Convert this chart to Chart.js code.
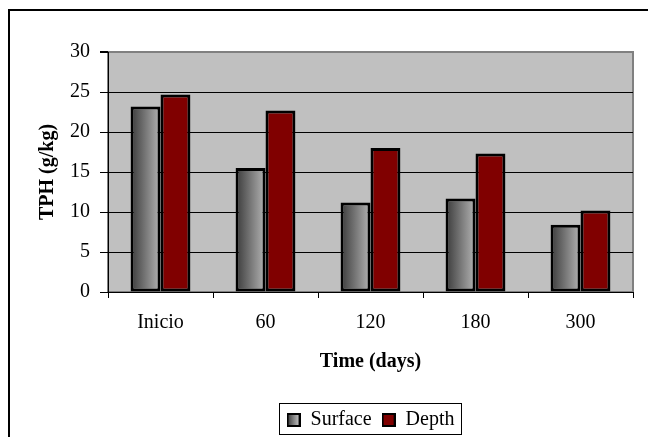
<!DOCTYPE html>
<html>
<head>
<meta charset="utf-8">
<script src="https://cdn.jsdelivr.net/npm/chart.js@4"></script>
<style>
  html, body { margin: 0; padding: 0; background: #fff; overflow: hidden; }
  #wrap { position: relative; width: 648px; height: 437px; }
  #frame {
    position: absolute; left: 8px; top: 9px; width: 700px; height: 500px;
    border-left: 2px solid #000; border-top: 2px solid #000; pointer-events: none;
  }
  canvas { position: absolute; left: 0; top: 0; }
</style>
</head>
<body>
<div id="wrap">
  <canvas id="chart" width="648" height="437"></canvas>
  <div id="frame"></div>
</div>
<script>
// data
const timeLabels = ['Inicio', '60', '120', '180', '300'];
const surfaceValues = [23.2, 15.5, 11.2, 11.7, 8.4];
const depthValues = [24.7, 22.7, 18.0, 17.3, 10.2];
const yTicks = [0, 5, 10, 15, 20, 25, 30];

const SERIF = '"Liberation Serif", "Times New Roman", serif';
const FONT_SIZE = 20;
const CAT_PCT = 0.57;

// grey bars get a left-to-right gradient like the Excel original
function surfaceFill(ctx) {
  const chart = ctx.chart;
  const x = chart.scales.x;
  if (!chart.chartArea || !x || ctx.type !== 'data') return '#8c8c8c';
  const c = x.getPixelForValue(ctx.dataIndex);
  const cat = x.getPixelForValue(1) - x.getPixelForValue(0);
  const bw = cat * CAT_PCT / 2;
  const g = chart.ctx.createLinearGradient(c - bw, 0, c, 0);
  g.addColorStop(0, '#3a3a3a');
  g.addColorStop(1, '#b4b4b4');
  return g;
}

// small swatch images for the legend
function makeSwatch(fill) {
  const cv = document.createElement('canvas');
  cv.width = 14; cv.height = 14;
  const c = cv.getContext('2d');
  if (fill === 'gradient') {
    const g = c.createLinearGradient(1, 0, 13, 0);
    g.addColorStop(0, '#3a3a3a');
    g.addColorStop(1, '#c8c8c8');
    c.fillStyle = g;
  } else {
    c.fillStyle = fill;
  }
  c.fillRect(0, 0, 14, 14);
  c.strokeStyle = '#000';
  c.lineWidth = 2;
  c.strokeRect(1, 1, 12, 12);
  return cv;
}
const swatches = [makeSwatch('gradient'), makeSwatch('#800000')];

const plotBackground = {
  id: 'plotBackground',
  beforeDraw(chart) {
    const { ctx, chartArea: a } = chart;
    ctx.save();
    ctx.fillStyle = '#c0c0c0';
    ctx.fillRect(a.left, a.top, a.width, a.height);
    ctx.strokeStyle = '#808080';
    ctx.lineWidth = 2;
    ctx.strokeRect(a.left, a.top, a.width, a.height);
    ctx.restore();
  }
};

// centre the legend under the plot, nudge it down and put a box round it
const legendBox = {
  id: 'legendBox',
  afterLayout(chart) {
    const lg = chart.legend;
    const a = chart.chartArea;
    const d = (a.left + a.right) / 2 - (lg.left + lg.right) / 2;
    lg.left += d;
    lg.right += d;
    lg.top += 3;
    lg.bottom += 3;
  },
  afterDraw(chart) {
    const boxes = chart.legend.legendHitBoxes;
    if (!boxes || !boxes.length) return;
    const first = boxes[0], last = boxes[boxes.length - 1];
    const ctx = chart.ctx;
    ctx.save();
    ctx.strokeStyle = '#000';
    ctx.lineWidth = 1;
    const l = Math.round(first.left - 8) + 0.5;
    const r = Math.round(last.left + last.width + 7) + 0.5;
    const t = Math.round(first.top - 7) + 0.5;
    const b = Math.round(first.top + first.height + 4) + 0.5;
    ctx.strokeRect(l, t, r - l, b - t);
    ctx.restore();
  }
};

new Chart(document.getElementById('chart'), {
  type: 'bar',
  data: {
    labels: timeLabels,
    datasets: [
      {
        label: 'Surface',
        data: surfaceValues,
        backgroundColor: surfaceFill,
        borderColor: '#000',
        borderWidth: 3,
        borderSkipped: false
      },
      {
        label: 'Depth',
        data: depthValues,
        backgroundColor: '#800000',
        borderColor: '#000',
        borderWidth: 3,
        borderSkipped: false
      }
    ]
  },
  options: {
    responsive: false,
    animation: false,
    devicePixelRatio: 1,
    layout: { padding: { left: 0, top: 52, right: 15, bottom: 0 } },
    datasets: { bar: { categoryPercentage: CAT_PCT, barPercentage: 1 } },
    plugins: {
      tooltip: { enabled: false },
      legend: {
        position: 'bottom',
        labels: {
          color: '#000',
          font: { family: SERIF, size: FONT_SIZE },
          boxWidth: 14,
          boxHeight: 14,
          padding: 10,
          usePointStyle: true,
          generateLabels: chart => Chart.defaults.plugins.legend.labels.generateLabels(chart)
            .map((it, i) => Object.assign(it, { pointStyle: swatches[i] }))
        }
      }
    },
    scales: {
      x: {
        afterFit: s => { s.height = 437 - 292 - s.chart.legend.height; },
        grid: {
          display: true,
          drawOnChartArea: false,
          offset: true,
          tickLength: 6,
          color: '#000'
        },
        border: { color: '#000', width: 1 },
        ticks: { color: '#000', font: { family: SERIF, size: FONT_SIZE }, padding: 13 },
        title: {
          display: true,
          text: 'Time (days)',
          color: '#000',
          font: { family: SERIF, size: FONT_SIZE, weight: 'bold' },
          padding: { top: 0, bottom: 23 }
        }
      },
      y: {
        min: 0,
        max: 30,
        afterFit: s => { s.width = 108; },
        afterBuildTicks: s => { s.ticks = yTicks.map(v => ({ value: v })); },
        grid: {
          color: c => (c.tick && c.tick.value === 30 ? '#808080' : '#000'),
          lineWidth: c => (c.tick && c.tick.value === 30 ? 2 : 1),
          tickColor: '#000',
          tickLength: 8
        },
        border: { color: '#000', width: 1 },
        ticks: { color: '#000', font: { family: SERIF, size: FONT_SIZE }, padding: 10 },
        title: {
          display: true,
          text: 'TPH (g/kg)',
          color: '#000',
          font: { family: SERIF, size: FONT_SIZE, weight: 'bold' },
          padding: { top: 36, bottom: 0 }
        }
      }
    }
  },
  plugins: [plotBackground, legendBox]
});
</script>
</body>
</html>
